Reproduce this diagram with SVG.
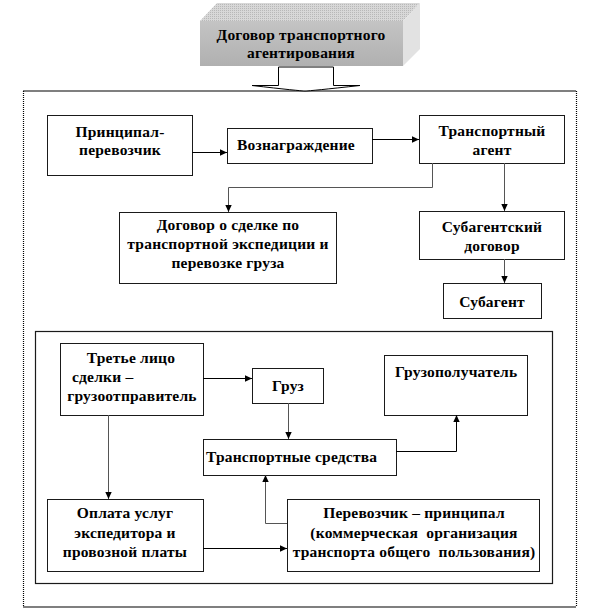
<svg xmlns="http://www.w3.org/2000/svg" width="614" height="610" viewBox="0 0 614 610" font-family="'Liberation Serif', 'DejaVu Serif', serif">
<defs>
<marker id="ah" markerWidth="8" markerHeight="8" refX="7" refY="4" orient="auto" markerUnits="userSpaceOnUse">
<path d="M0,0.8 L7,4 L0,7.2 Z" fill="#000"/>
</marker>
<pattern id="dots" width="2" height="2" patternUnits="userSpaceOnUse">
<rect width="2" height="2" fill="#d8d8d8"/>
<rect width="1" height="1" fill="#b8b8b8"/>
</pattern>
<linearGradient id="front" x1="0" y1="0" x2="0" y2="1">
<stop offset="0" stop-color="#c4c4c4"/>
<stop offset="1" stop-color="#b0b0b0"/>
</linearGradient>
</defs>
<style>
.box{fill:#fff;stroke:#1a1a1a;stroke-width:1}
.t{font-family:'Liberation Serif','DejaVu Serif',serif;font-weight:bold;font-size:15.5px;fill:#000;letter-spacing:0.2px}
.c{text-anchor:middle}
.ln{fill:none;stroke:#555;stroke-width:1}
.lh{fill:none;stroke:#000;stroke-width:1}
</style>
<rect width="614" height="610" fill="#fff"/>

<g id="outer-frame">
<line x1="23" y1="91" x2="576" y2="91" stroke="#000" stroke-width="1.2"/>
<line x1="23" y1="607" x2="576" y2="607" stroke="#000" stroke-width="1.2"/>
<line x1="23.5" y1="91" x2="23.5" y2="607" stroke="#000" stroke-width="1.2" stroke-dasharray="1,1"/>
<line x1="576.5" y1="91" x2="576.5" y2="607" stroke="#000" stroke-width="1.2" stroke-dasharray="1,1"/>
</g>

<g id="inner-frame">
<rect x="35.5" y="331.5" width="517" height="252" fill="none" stroke="#1a1a1a" stroke-width="1.2"/>
</g>

<g id="title">
<polygon points="200,21 217,3 420,3 403,21" fill="url(#dots)"/>
<polygon points="403,21 420,3 420,49 403,66" fill="#e2e2e2"/>
<rect x="200" y="21" width="203" height="45" fill="url(#front)"/>
<text class="t c" x="301" y="40">Договор транспортного</text>
<text class="t c" x="301" y="58">агентирования</text>
</g>

<g id="title-arrow">
<path d="M278.5,67 V85.5 H252 Q300,91 305,91 Q310,91 360,85.5 H333.5 V67 Z" fill="#fff" stroke="#000" stroke-width="1"/>
</g>

<g id="n-principal">
<rect class="box" x="47.5" y="115.5" width="145" height="60"/>
<text class="t c" x="120" y="137">Принципал-</text>
<text class="t c" x="120" y="155">перевозчик</text>
</g>

<g id="n-reward">
<rect class="box" x="227.5" y="128.5" width="145" height="35"/>
<text class="t" x="237" y="150">Вознаграждение</text>
</g>

<g id="n-agent">
<rect class="box" x="419.5" y="115.5" width="145" height="48"/>
<text class="t c" x="492" y="136">Транспортный</text>
<text class="t c" x="492" y="155">агент</text>
</g>

<g id="n-contract">
<rect class="box" x="119.5" y="212.5" width="217" height="71"/>
<text class="t c" x="228" y="230">Договор о сделке по</text>
<text class="t c" x="228" y="249">транспортной экспедиции и</text>
<text class="t c" x="228" y="268">перевозке груза</text>
</g>

<g id="n-subcontract">
<rect class="box" x="419.5" y="211.5" width="145" height="48"/>
<text class="t c" x="492" y="232">Субагентский</text>
<text class="t c" x="492" y="251">договор</text>
</g>

<g id="n-subagent">
<rect class="box" x="443.5" y="283.5" width="98" height="35"/>
<text class="t c" x="492" y="307">Субагент</text>
</g>

<g id="n-shipper">
<rect class="box" x="60.5" y="343.5" width="143" height="72"/>
<text class="t c" x="131" y="363">Третье лицо</text>
<text class="t" x="72" y="382">сделки –</text>
<text class="t c" x="132" y="401">грузоотправитель</text>
</g>

<g id="n-cargo">
<rect class="box" x="252.5" y="368.5" width="71" height="35"/>
<text class="t c" x="288" y="391">Груз</text>
</g>

<g id="n-consignee">
<rect class="box" x="384.5" y="355.5" width="143" height="60"/>
<text class="t" x="395" y="377">Грузополучатель</text>
</g>

<g id="n-vehicles">
<rect class="box" x="203.5" y="439.5" width="193" height="36"/>
<text class="t" x="206" y="462">Транспортные средства</text>
</g>

<g id="n-payment">
<rect class="box" x="47.5" y="499.5" width="156" height="72"/>
<text class="t c" x="125" y="518">Оплата услуг</text>
<text class="t c" x="125" y="538">экспедитора и</text>
<text class="t c" x="125" y="557">провозной платы</text>
</g>

<g id="n-carrier">
<rect class="box" x="287.5" y="499.5" width="252" height="72"/>
<text class="t c" x="414" y="518">Перевозчик – принципал</text>
<text class="t c" x="414" y="538" xml:space="preserve">(коммерческая  организация</text>
<text class="t c" x="414" y="557" xml:space="preserve">транспорта общего  пользования)</text>
</g>

<g id="connectors">
<path class="lh" d="M192,152.5 H227" marker-end="url(#ah)"/>
<path class="lh" d="M372,139.5 H419" marker-end="url(#ah)"/>
<path class="ln" d="M432.5,163 V187.5 H228.5 V212" marker-end="url(#ah)"/>
<path class="ln" d="M504.5,163 V211" marker-end="url(#ah)"/>
<path class="ln" d="M504.5,259 V283" marker-end="url(#ah)"/>
<path class="lh" d="M203,378.5 H252" marker-end="url(#ah)"/>
<path class="ln" d="M288.5,403 V439" marker-end="url(#ah)"/>
<path class="lh" d="M396,451.5 H456.5 V415" marker-end="url(#ah)"/>
<path class="ln" d="M108.5,415 V499" marker-end="url(#ah)"/>
<path class="lh" d="M203,548.5 H287" marker-end="url(#ah)"/>
<path class="ln" d="M287,523.5 H265.5 V475" marker-end="url(#ah)"/>
</g>
</svg>
